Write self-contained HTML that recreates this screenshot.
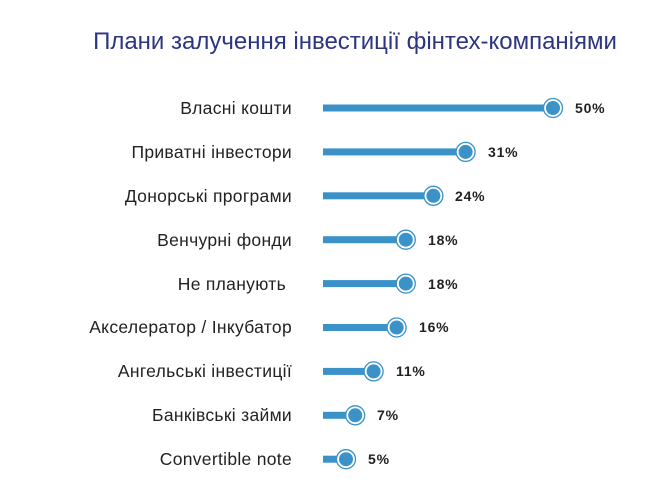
<!DOCTYPE html><html><head><meta charset="utf-8"><style>
body{margin:0;background:#fff;width:663px;height:493px;overflow:hidden;font-family:"Liberation Sans",sans-serif}
</style></head><body>
<svg width="663" height="493" xmlns="http://www.w3.org/2000/svg" font-family="Liberation Sans">
<text x="355" y="49" text-anchor="middle" font-size="24" fill="#2d3580">Плани залучення інвестиції фінтех-компаніями</text>
<g font-size="17.5" fill="#222" text-anchor="end" letter-spacing="0.3">
<text x="292" y="114">Власні кошти</text>
<text x="292" y="158">Приватні інвестори</text>
<text x="292" y="202">Донорські програми</text>
<text x="292" y="246">Венчурні фонди</text>
<text x="286" y="290">Не планують</text>
<text x="292" y="333">Акселератор / Інкубатор</text>
<text x="292" y="377">Ангельські інвестиції</text>
<text x="292" y="421">Банківські займи</text>
<text x="292" y="465">Convertible note</text>
</g>
<g fill="#3a92c8">
<rect x="323" y="104.5" width="230" height="7"/>
<rect x="323" y="148.4" width="142.6" height="7"/>
<rect x="323" y="192.3" width="110.4" height="7"/>
<rect x="323" y="236.2" width="82.8" height="7"/>
<rect x="323" y="280.1" width="82.8" height="7"/>
<rect x="323" y="324" width="73.6" height="7"/>
<rect x="323" y="367.9" width="50.6" height="7"/>
<rect x="323" y="411.8" width="32.2" height="7"/>
<rect x="323" y="455.7" width="23" height="7"/>
</g>
<g fill="#fff" stroke="#3a92c8" stroke-width="1.3">
<circle cx="553" cy="108" r="9.5"/>
<circle cx="465.6" cy="151.9" r="9.5"/>
<circle cx="433.4" cy="195.8" r="9.5"/>
<circle cx="405.8" cy="239.7" r="9.5"/>
<circle cx="405.8" cy="283.6" r="9.5"/>
<circle cx="396.6" cy="327.5" r="9.5"/>
<circle cx="373.6" cy="371.4" r="9.5"/>
<circle cx="355.2" cy="415.3" r="9.5"/>
<circle cx="346" cy="459.2" r="9.5"/>
</g>
<g fill="#3a92c8">
<circle cx="553" cy="108" r="7"/>
<circle cx="465.6" cy="151.9" r="7"/>
<circle cx="433.4" cy="195.8" r="7"/>
<circle cx="405.8" cy="239.7" r="7"/>
<circle cx="405.8" cy="283.6" r="7"/>
<circle cx="396.6" cy="327.5" r="7"/>
<circle cx="373.6" cy="371.4" r="7"/>
<circle cx="355.2" cy="415.3" r="7"/>
<circle cx="346" cy="459.2" r="7"/>
</g>
<g font-size="14" font-weight="bold" fill="#222" letter-spacing="0.8">
<text x="575" y="113">50%</text>
<text x="488" y="157">31%</text>
<text x="455" y="201">24%</text>
<text x="428" y="245">18%</text>
<text x="428" y="289">18%</text>
<text x="419" y="332">16%</text>
<text x="396" y="376">11%</text>
<text x="377" y="420">7%</text>
<text x="368" y="464">5%</text>
</g>
</svg></body></html>
